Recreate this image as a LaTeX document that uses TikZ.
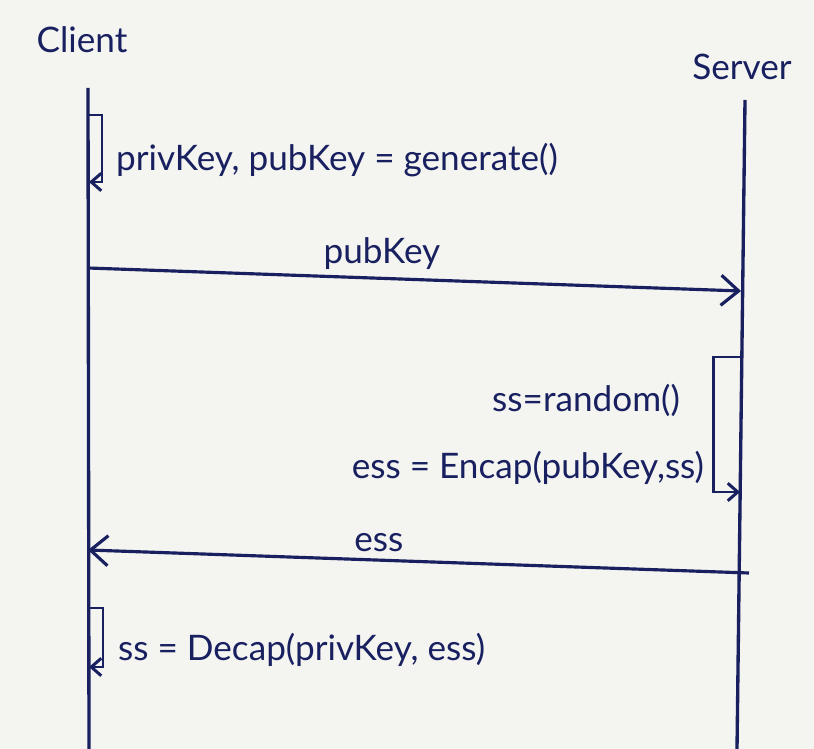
\documentclass[tikz,border=0pt]{standalone}
\usepackage{fontspec}
\setmainfont{Lato}
\usetikzlibrary{arrows.meta, positioning}

\definecolor{ink}{RGB}{24,32,96}
\definecolor{paper}{RGB}{244,244,241}
\newcommand{\handfont}{\fontsize{20}{24}\selectfont}

\begin{document}
\begin{tikzpicture}[x=0.02cm, y=-0.02cm,
    lifeline/.style={draw=ink, line width=1.9pt},
    msg/.style={draw=ink, line width=1.8pt, -{Straight Barb[length=3.5mm, width=6mm, line width=1.8pt]}},
    selfmsg/.style={draw=ink, line width=1.7pt, -{Straight Barb[length=2mm, width=3.5mm, line width=1.7pt]}},
    txt/.style={text=ink, font=\handfont, inner sep=1pt}]

  % paper
  \fill[paper] (0,0) rectangle (814,749);
  \useasboundingbox (0,0) rectangle (814,749);

  % the two parties
  \node[txt] (client) at (82,40) {Client};
  \node[txt] (server) at (742,67) {Server};

  \coordinate (client top) at (88,88);
  \coordinate (client bot) at (89,749);
  \coordinate (server top) at (745,100);
  \coordinate (server bot) at (737,749);
  \draw[lifeline] (client top) -- (client bot);
  \draw[lifeline] (server top) -- (server bot);

  % key generation on the client
  \coordinate (gen a) at (89,115);
  \coordinate (gen b) at (89,182);
  \draw[selfmsg] (gen a) -- ++(13,0) |- (gen b);
  \node[txt, anchor=west] (gen) at (114,160) {privKey, pubKey = generate()};

  % public key sent over
  \coordinate (pub a) at (88,268);
  \coordinate (pub b) at (741,291);
  \draw[msg] (pub a) -- node[txt, above=3pt, pos=0.45] (publabel) {pubKey} (pub b);

  % encapsulation on the server
  \coordinate (enc a) at (740,357);
  \coordinate (enc b) at (740,492);
  \draw[selfmsg] (enc a) -- ++(-27,0) |- (enc b);
  \node[txt, anchor=east] (rnd) at (682,400) {ss=random()};
  \node[txt, anchor=east] (enc) at (706,468) {ess = Encap(pubKey,ss)};

  % encapsulated secret sent back
  \coordinate (ess a) at (749,573);
  \coordinate (ess b) at (88,550);
  \draw[msg] (ess a) -- node[txt, above=3pt, pos=0.56] (esslabel) {ess} (ess b);

  % decapsulation on the client
  \coordinate (dec a) at (89,608);
  \coordinate (dec b) at (89,667);
  \draw[selfmsg] (dec a) -- ++(14,0) |- (dec b);
  \node[txt, anchor=west] (dec) at (116,650) {ss = Decap(privKey, ess)};
\end{tikzpicture}
\end{document}
